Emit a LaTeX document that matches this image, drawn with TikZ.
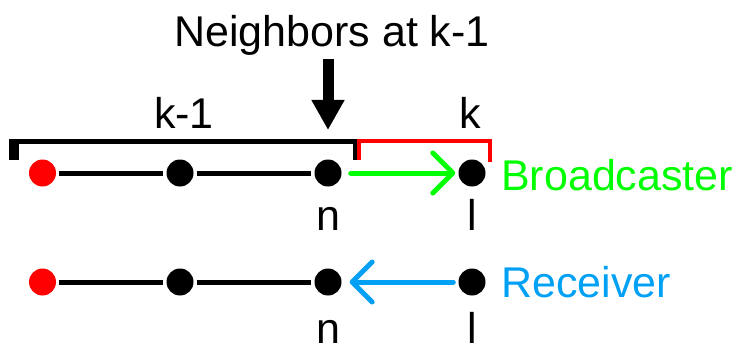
\documentclass[tikz,border=0pt]{standalone}
\usepackage{fontspec}
\setmainfont{Liberation Sans}
\usetikzlibrary{arrows.meta}
\definecolor{bgreen}{RGB}{0,255,0}
\definecolor{rblue}{RGB}{0,160,245}
\definecolor{dred}{RGB}{255,0,0}
\begin{document}
\begin{tikzpicture}[x=1pt,y=1pt,
  dot/.style={circle,fill=black,minimum size=27pt,inner sep=0pt},
  lab/.style={font=\fontsize{43}{50}\selectfont,inner sep=0pt,anchor=base},
  link/.style={line width=5pt,shorten <=3pt,shorten >=3pt},
  sendarrow/.style={line width=5pt,line cap=round,-{Straight Barb[length=20pt,width=40pt,round]}}]
\useasboundingbox (0,0) rectangle (739,346);
% row 1
\node[dot,fill=dred] (a1) at (42.5,173) {};
\node[dot] (b1) at (180,173) {};
\node[dot] (n1) at (328,173) {};
\node[dot] (l1) at (472,173) {};
% row 2
\node[dot,fill=dred] (a2) at (42.5,64) {};
\node[dot] (b2) at (180,64) {};
\node[dot] (n2) at (328,64) {};
\node[dot] (l2) at (472,64) {};
% links
\draw[link] (a1) -- (b1);
\draw[link] (b1) -- (n1);
\draw[link] (a2) -- (b2);
\draw[link] (b2) -- (n2);
% labels
\node[lab] (title) at (332,299) {Neighbors at k-1};
\node[lab] (km1) at (184,218) {k-1};
\node[lab] (k) at (470,218) {k};
\node[lab] (nlab1) at (328,116) {n};
\node[lab] (llab1) at (472,116) {l};
\node[lab] (nlab2) at (328,3) {n};
\node[lab] (llab2) at (472,3) {l};
\node[lab,anchor=base west,text=bgreen] (bc) at (501,156) {Broadcaster};
\node[lab,anchor=base west,text=rblue] (rc) at (501,49) {Receiver};
% brackets
\draw[line width=5pt] (13,186) -- (13,204) -- (355,204) -- (355,186);
\fill (9,186) rectangle (19,206.5);
\draw[dred,line width=4pt] (359,186) -- (359,205) -- (490,205) -- (490,184);
% down arrow
\coordinate (ds) at (328,287);
\coordinate (de) at (328,216);
\draw[line width=11pt,-{Triangle[length=30pt,width=31pt]}] (ds) -- (de);
% message arrows
\draw[bgreen,sendarrow,shorten <=9pt,shorten >=3pt] (n1) -- (l1);
\draw[rblue,sendarrow,shorten <=5pt,shorten >=8pt] (l2) -- (n2);
\end{tikzpicture}
\end{document}
